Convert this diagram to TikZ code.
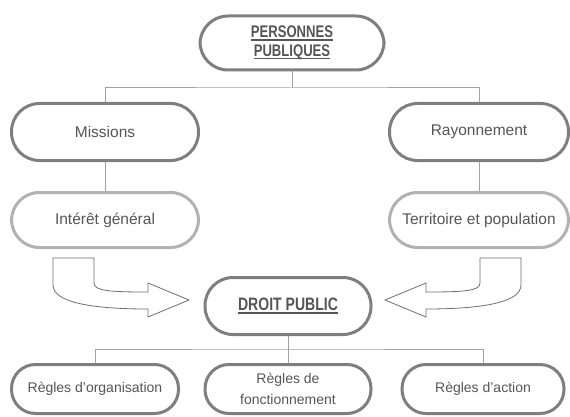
\documentclass[tikz,border=0pt]{standalone}
\usepackage{fontspec}
\setmainfont{Liberation Sans}
\newfontfamily\narrowfont[FakeStretch=0.78]{Liberation Sans}
\definecolor{txtgray}{HTML}{555555}
\definecolor{boxgray}{HTML}{7F7F7F}
\definecolor{lightbox}{HTML}{B2B2B2}
\definecolor{linegray}{HTML}{A0A0A0}
\definecolor{arrowgray}{HTML}{6E6E6E}
\newcommand{\ulined}[1]{\setbox0\hbox{#1}\rlap{\rule[-2.6pt]{\wd0}{1.4pt}}\box0}

\begin{document}
\begin{tikzpicture}[x=1pt,y=-1pt,
	box/.style={draw=boxgray,line width=3pt,rounded corners=28pt,minimum height=57pt,align=center,text=txtgray,font=\fontsize{15.5}{18}\selectfont},
	lightbox/.style={box,draw=lightbox},
	titlebox/.style={box,font=\narrowfont\bfseries\fontsize{16.8}{18.5}\selectfont},
	rulebox/.style={box,rounded corners=24pt,minimum height=49pt,font=\fontsize{14}{21}\selectfont},
	conn/.style={draw=linegray,line width=1pt},
	bigarrow/.style={draw=arrowgray,line width=0.8pt,fill=white}]
	\useasboundingbox (0,0) rectangle (570,417);
	% top of the tree
	\node [titlebox,minimum width=184pt,minimum height=54pt] (pp) at (292,43) {\ulined{PERSONNES}\\\ulined{PUBLIQUES}};
	\node [box,minimum width=187pt] (miss) at (105,132) {Missions};
	\node [box,minimum width=179pt] (ray) at (479,132) {Rayonnement};
	\node [lightbox,minimum width=187pt,minimum height=55pt] (intg) at (105,220) {Intérêt général};
	\node [lightbox,minimum width=179pt,minimum height=55pt] (terr) at (479,220) {Territoire et population};
	\coordinate (jtop) at (292,88);
	\draw [conn] (pp) -- (jtop);
	\draw [conn] (miss.north) |- (jtop) -| (ray.north);
	\draw [conn] (miss) -- (intg);
	\draw [conn] (ray) -- (terr);
	% the two bent arrows
	\draw [bigarrow] (53,258) -- (94,258) -- (94,283) .. controls (94,291) and (110,292) .. (148,292) -- (148,283) -- (189,300) -- (148,317) -- (148,309) .. controls (90,309) and (53,302) .. (53,285) -- cycle;
	\draw [bigarrow] (521,258) -- (480,258) -- (480,283) .. controls (480,291) and (464,292) .. (426,292) -- (426,283) -- (385,300) -- (426,317) -- (426,309) .. controls (484,309) and (521,302) .. (521,285) -- cycle;
	% droit public and its rules
	\node [titlebox,font=\narrowfont\bfseries\fontsize{18}{20}\selectfont,minimum width=166pt] (dp) at (288,306) {\ulined{DROIT PUBLIC}};
	\node [rulebox,minimum width=167pt] (rorg) at (95,389) {Règles d’organisation};
	\node [rulebox,minimum width=166pt] (rfonc) at (288,389) {Règles de\\fonctionnement};
	\node [rulebox,minimum width=162pt] (ract) at (483,389) {Règles d’action};
	\coordinate (jbot) at (288,349);
	\draw [conn] (dp) -- (jbot);
	\draw [conn] (rorg.north) |- (jbot) -| (ract.north);
	\draw [conn] (jbot) -- (rfonc);
\end{tikzpicture}
\end{document}
